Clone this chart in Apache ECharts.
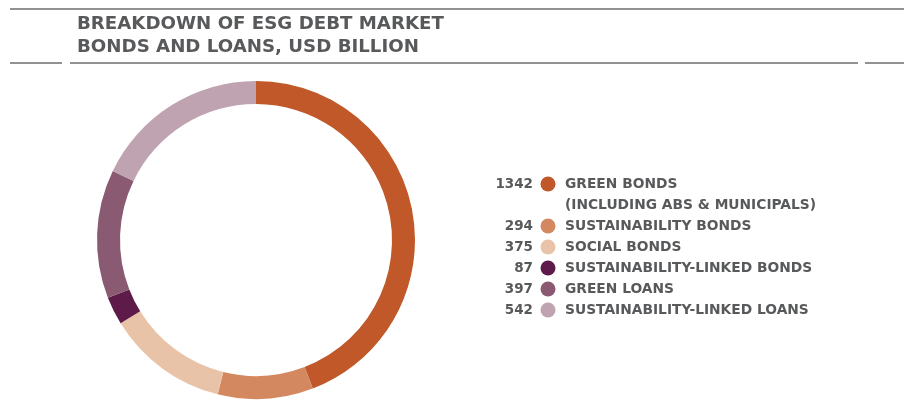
<!DOCTYPE html>
<html>
<head>
<meta charset="utf-8">
<script src="https://cdn.jsdelivr.net/npm/echarts@6/dist/echarts.min.js"></script>
<style>html,body{margin:0;padding:0;background:#fff}#c{width:904px;height:414px}</style>
</head>
<body>
<div id="c"></div>
<script>
const titleLines = ['BREAKDOWN OF ESG DEBT MARKET', 'BONDS AND LOANS, USD BILLION'];
const categories = ['GREEN BONDS\n(INCLUDING ABS & MUNICIPALS)', 'SUSTAINABILITY BONDS', 'SOCIAL BONDS', 'SUSTAINABILITY-LINKED BONDS', 'GREEN LOANS', 'SUSTAINABILITY-LINKED LOANS'];
const values = [1342, 294, 375, 87, 397, 542];
const colors = ['#C0582A', '#D4885F', '#E8C3A8', '#5E1A48', '#8A5A73', '#BFA3B0'];

const textColor = '#58595B';
const font = 'DejaVu Sans';
const graphic = [];
graphic.push({type:'line', shape:{x1:10,y1:9,x2:904,y2:9}, style:{stroke:'#6d6e70', lineWidth:1.5}});
[[10,62],[70,858],[865,904]].forEach(s => graphic.push({type:'line', shape:{x1:s[0],y1:63,x2:s[1],y2:63}, style:{stroke:'#6d6e70', lineWidth:1.5}}));
titleLines.forEach((t,i) => graphic.push({type:'text', x:77, y:24 + i*23, style:{text:t, font:'bold 18.2px "' + font + '"', fill:textColor, verticalAlign:'middle', align:'left'}}));
let row = 0;
categories.forEach((c,i) => {
  const y = 184 + row*21;
  graphic.push({type:'text', x:533, y:y, style:{text:String(values[i]), font:'bold 13.5px "' + font + '"', fill:textColor, align:'right', verticalAlign:'middle'}});
  graphic.push({type:'circle', shape:{cx:548, cy:y, r:7.5}, style:{fill:colors[i]}});
  c.split('\n').forEach((line,j) => {
    graphic.push({type:'text', x:565, y:y + j*21, style:{text:line, font:'bold 13.8px "' + font + '"', fill:textColor, align:'left', verticalAlign:'middle'}});
  });
  row += c.split('\n').length;
});

const chart = echarts.init(document.getElementById('c'), null, {renderer:'canvas'});
chart.setOption({
  animation:false,
  color: colors,
  graphic: graphic,
  series:[{
    type:'pie',
    center:[256,240],
    radius:[136,159],
    startAngle:90,
    clockwise:true,
    label:{show:false},
    labelLine:{show:false},
    silent:true,
    itemStyle:{borderWidth:0},
    data: categories.map((c,i)=>({name:c, value:values[i]}))
  }]
});
</script>
</body>
</html>
